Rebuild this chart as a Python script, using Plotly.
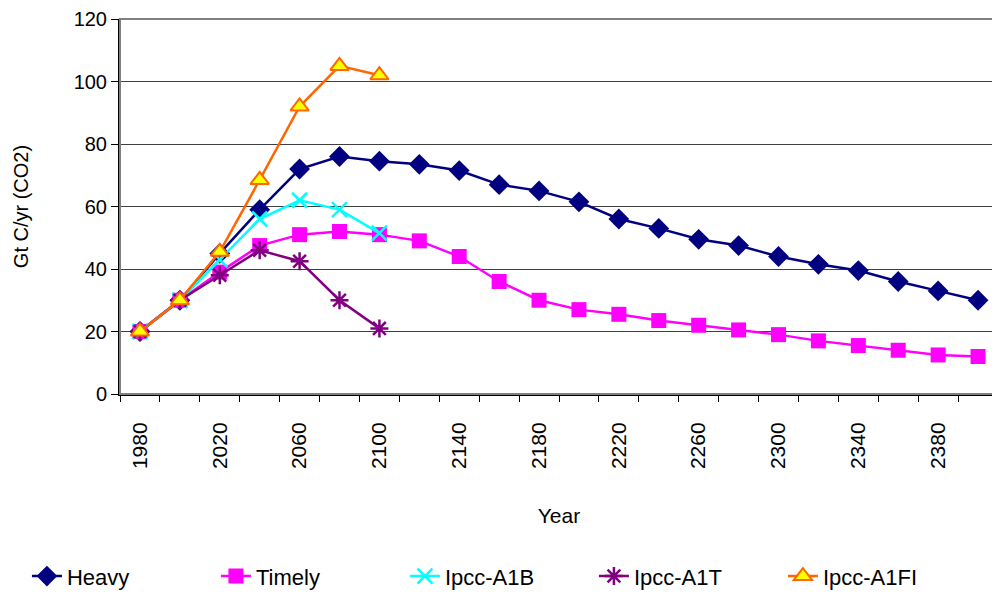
import plotly.graph_objects as go

years = list(range(1980, 2401, 20))
heavy = [20, 30, 45, 59, 72, 76, 74.5, 73.5, 71.5, 67, 65, 61.5, 56, 53, 49.5, 47.5, 44, 41.5, 39.5, 36, 33, 30]
timely = [20, 30, 39, 47.5, 51, 52, 51, 49, 44, 36, 30, 27, 25.5, 23.5, 22, 20.5, 19, 17, 15.5, 14, 12.5, 12]
a1b = [20, 30, 43, 56, 62, 59, 51.5]
a1t = [20, 30, 38, 46, 42.5, 30, 21]
a1fi = [20, 30, 45.5, 68.5, 92, 105, 102]
tick_labels = [str(y) for y in range(1980, 2381, 40)]

fig = go.Figure()
fig.add_trace(go.Scatter(x=years, y=heavy, name="Heavy", mode="lines+markers",
                         line=dict(color="#000080", width=2.5),
                         marker=dict(symbol="diamond", size=16, color="#000080")))
fig.add_trace(go.Scatter(x=years, y=timely, name="Timely", mode="lines+markers",
                         line=dict(color="#FF00FF", width=2.5),
                         marker=dict(symbol="square", size=15, color="#FF00FF")))
fig.add_trace(go.Scatter(x=years[:len(a1b)], y=a1b, name="Ipcc-A1B", mode="lines+markers",
                         line=dict(color="#00FFFF", width=2.5),
                         marker=dict(symbol="x-thin", size=15, color="#00FFFF",
                                     line=dict(color="#00FFFF", width=2.5))))
fig.add_trace(go.Scatter(x=years[:len(a1t)], y=a1t, name="Ipcc-A1T", mode="lines+markers",
                         line=dict(color="#800080", width=2.5),
                         marker=dict(symbol="asterisk-open", size=15, color="#800080",
                                     line=dict(color="#800080", width=2.5))))
fig.add_trace(go.Scatter(x=years[:len(a1fi)], y=a1fi, name="Ipcc-A1FI", mode="lines+markers",
                         line=dict(color="#FF6600", width=2.5),
                         marker=dict(symbol="triangle-up", size=16, color="#FFFF00",
                                     line=dict(color="#FF6600", width=2))))

fig.update_layout(
    width=1000, height=597,
    margin=dict(l=112, r=10, t=11, b=211, autoexpand=False),
    plot_bgcolor="white", paper_bgcolor="white",
    font=dict(family="Liberation Sans, Arial, sans-serif", size=16, color="black"),
    showlegend=True,
    legend=dict(orientation="h", x=-0.106, xanchor="left", y=-0.43, yanchor="top",
                font=dict(size=22), entrywidth=144, entrywidthmode="pixels",
                traceorder="normal"),
    shapes=[dict(type="rect", xref="paper", yref="paper", x0=0, y0=0, x1=1, y1=1,
                 line=dict(color="#808080", width=2), layer="above")],
)
fig.update_xaxes(
    range=[1970, 2410], tickmode="array", automargin=False,
    tickvals=[int(t) for t in tick_labels], ticktext=tick_labels,
    tickangle=-90, ticks="", showgrid=False, zeroline=False,
    ticklabelstandoff=18,
    tickfont=dict(family="Liberation Sans, Arial", size=21),
    showline=True, linecolor="black", linewidth=2,
    minor=dict(tickvals=list(range(1970, 2411, 20)), ticks="outside", ticklen=6,
               tickcolor="black", showgrid=False),
    title=dict(text="Year", font=dict(family="Liberation Sans", size=21), standoff=40),
)
fig.update_yaxes(
    range=[0, 120], dtick=20, ticks="outside", ticklen=7, tickcolor="black",
    automargin=False,
    showgrid=True, gridcolor="#404040", gridwidth=1, zeroline=False,
    showline=True, linecolor="black", linewidth=2,
    tickfont=dict(family="Liberation Sans", size=20),
    title=dict(text="Gt C/yr (CO2)", font=dict(family="Liberation Sans", size=20), standoff=40),
)
fig.write_html("out.html")
